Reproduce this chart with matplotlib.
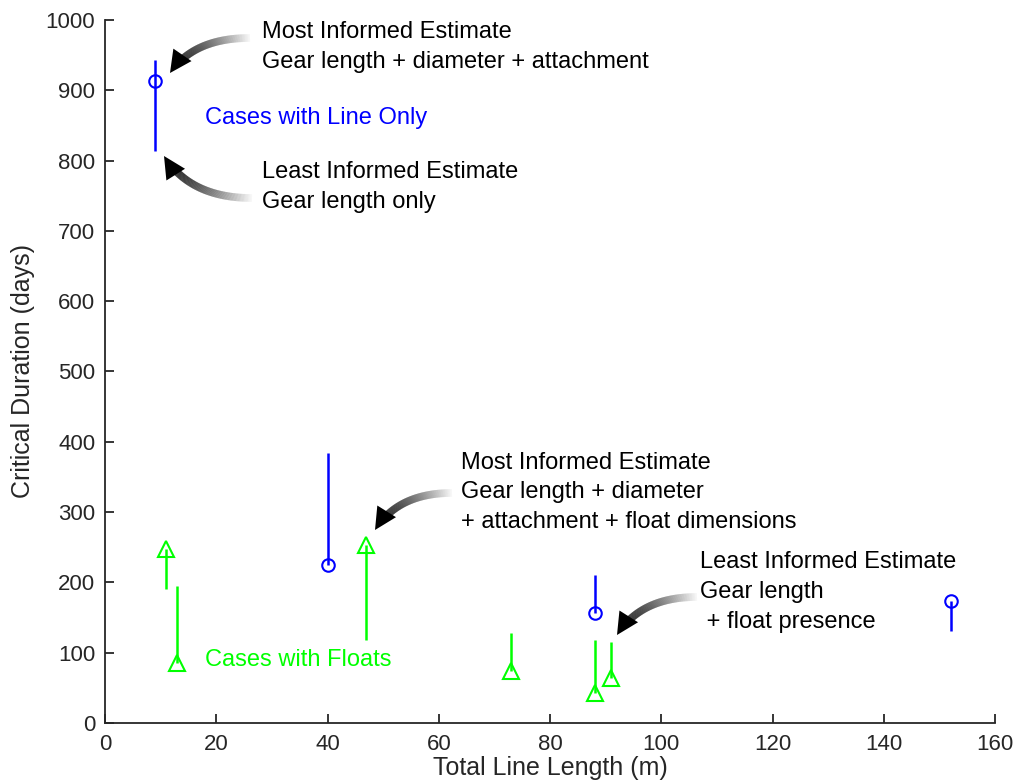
import numpy as np
import matplotlib.pyplot as plt
from matplotlib.collections import LineCollection
from matplotlib.patches import Polygon
from matplotlib.transforms import IdentityTransform

plt.rcParams['font.family'] = ['Liberation Sans', 'DejaVu Sans']

# line-only cases: marker = most informed estimate, line spans the estimate range
line_x = [9, 40, 88, 152]
line_mark = [913, 225, 157, 174]
line_lo = [813, 225, 157, 131]
line_hi = [943, 384, 211, 174]

# float cases
float_x = [11, 13, 47, 73, 88, 91]
float_mark = [248, 85, 253, 74, 43, 64]
float_lo = [190, 85, 118, 74, 43, 64]
float_hi = [248, 195, 253, 128, 118, 115]

xticks = np.arange(0, 161, 20)
yticks = np.arange(0, 1001, 100)

BLUE = '#0000ff'
GREEN = '#00ff00'
AX = '#262626'

fig = plt.figure(figsize=(10.2, 7.82), dpi=100)
ax = fig.add_axes([105 / 1020, 59 / 782, 890 / 1020, 703 / 782])

ax.vlines(line_x, line_lo, line_hi, color=BLUE, lw=1.8)
ax.plot(line_x, line_mark, 'o', mfc='none', mec=BLUE, mew=1.5, ms=9, ls='none')
ax.vlines(float_x, float_lo, float_hi, color=GREEN, lw=1.8)
ax.plot(float_x, float_mark, '^', mfc='none', mec=GREEN, mew=1.5, ms=11, ls='none')

ax.set_xlim(0, 160)
ax.set_ylim(0, 1000)
ax.set_xticks(xticks)
ax.set_yticks(yticks)
for s in ['top', 'right']:
    ax.spines[s].set_visible(False)
for s in ['left', 'bottom']:
    ax.spines[s].set_color(AX)
    ax.spines[s].set_linewidth(1.3)
ax.tick_params(direction='in', length=6.5, width=1.3, colors=AX, labelsize=16)
ax.tick_params(axis='x', pad=8)
ax.tick_params(axis='y', pad=7)
ax.set_xlabel('Total Line Length (m)', fontsize=18, color=AX, labelpad=1)
ax.set_ylabel('Critical Duration (days)', fontsize=18, color=AX, labelpad=8)

txt = dict(fontsize=17, color='black', ha='left', va='center', linespacing=1.46)
ax.text(28.2, 962, 'Most Informed Estimate\nGear length + diameter + attachment', **txt)
ax.text(28.2, 763, 'Least Informed Estimate\nGear length only', **txt)
ax.text(64.0, 328, 'Most Informed Estimate\nGear length + diameter\n+ attachment + float dimensions', **txt)
ax.text(107.0, 186, 'Least Informed Estimate\nGear length\n + float presence', **txt)
ax.text(18.0, 860, 'Cases with Line Only', fontsize=17, color=BLUE, va='center')
ax.text(18.0, 90, 'Cases with Floats', fontsize=17, color=GREEN, va='center')


def fade_arrow(tail, head, ctrl_frac=0.3):
    # quadratic bezier in pixel space, fading from white at the tail to black at the head
    H = fig.bbox.height
    t0 = np.array([tail[0], H - tail[1]], float)
    h0 = np.array([head[0], H - head[1]], float)
    c = np.array([h0[0] + ctrl_frac * (t0[0] - h0[0]), t0[1]])
    hl = 22.0
    s = np.linspace(0, 1, 150)
    pts = ((1 - s) ** 2)[:, None] * t0 + (2 * (1 - s) * s)[:, None] * c + (s ** 2)[:, None] * h0
    d = h0 - c
    d /= np.linalg.norm(d)
    cut = np.linalg.norm(pts - h0, axis=1) > hl * 0.85
    pts = pts[cut]
    segs = np.stack([pts[:-1], pts[1:]], axis=1)
    g = 0.97 * (1 - np.linspace(0, 1, len(segs))) ** 1.6
    cols = np.c_[g, g, g, np.ones_like(g)]
    lc = LineCollection(segs, colors=cols, linewidths=5.5, transform=IdentityTransform(),
                        capstyle='butt')
    fig.add_artist(lc)
    n = np.array([-d[1], d[0]])
    base = h0 - d * hl
    tri = Polygon([h0, base + n * 11, base - n * 11], closed=True, fc='black', ec='none',
                  transform=IdentityTransform())
    fig.add_artist(tri)


fade_arrow((250, 38), (170, 73))
fade_arrow((252, 198), (164, 156))
fade_arrow((452, 493), (375, 530))
fade_arrow((697, 597), (617, 635))

fig.savefig('out.png', dpi=100)
